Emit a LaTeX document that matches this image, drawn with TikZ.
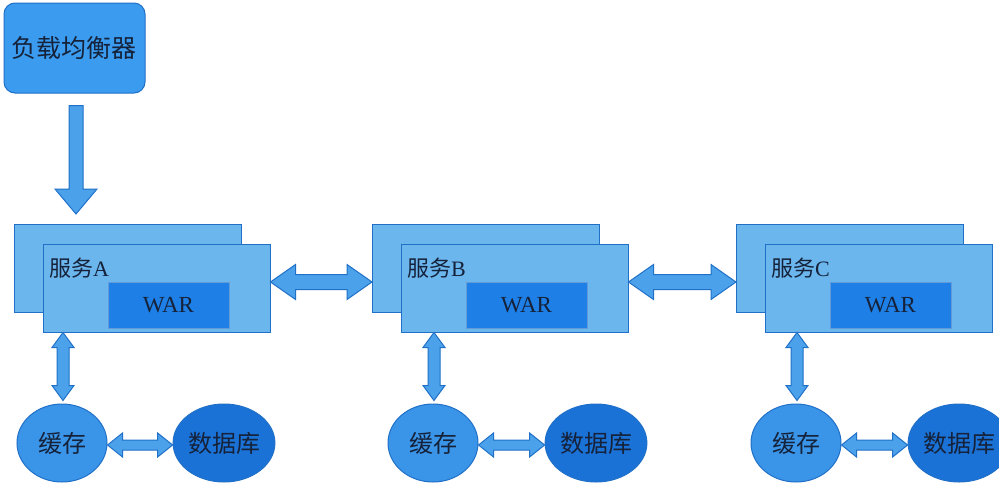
\documentclass[tikz,border=0pt]{standalone}
\usepackage{fontspec}
\setmainfont{Liberation Serif}
\newfontfamily\cjk{Noto Sans CJK SC}
\usetikzlibrary{calc,shapes.geometric}
\definecolor{lbfill}{HTML}{3B9BEF}
\definecolor{bord}{HTML}{2070C8}
\definecolor{svcfill}{HTML}{6CB6EE}
\definecolor{warfill}{HTML}{1E80E6}
\definecolor{cachefill}{HTML}{3A95E8}
\definecolor{dbfill}{HTML}{1B72D6}
\definecolor{arrfill}{HTML}{4BA2EA}
\definecolor{txt}{HTML}{15223A}
\tikzset{
  lbbox/.style={draw=bord, fill=lbfill, line width=1pt, rounded corners=11pt, minimum width=141pt, minimum height=90pt, inner sep=0pt, text=txt, font=\cjk\fontsize{25}{27}\selectfont},
  svcbox/.style={draw=bord, fill=svcfill, line width=1pt, minimum width=227pt, minimum height=88pt, inner sep=0pt},
  warbox/.style={draw=bord!70, fill=warfill, line width=0.6pt, minimum width=121pt, minimum height=46pt, inner sep=0pt, text=txt, font=\fontsize{23}{25}\selectfont},
  svclabel/.style={anchor=west, inner sep=0pt, text=txt, font=\fontsize{22}{24}\selectfont},
  cachenode/.style={ellipse, draw=bord, fill=cachefill, line width=1pt, minimum width=90pt, minimum height=78pt, inner sep=0pt, text=txt, font=\cjk\fontsize{24}{26}\selectfont},
  dbnode/.style={ellipse, draw=bord, fill=dbfill, line width=1pt, minimum width=88pt, minimum height=78pt, inner sep=0pt, text=txt, font=\cjk\fontsize{24}{26}\selectfont},
  arr/.style={draw=bord, fill=arrfill, line width=1pt, line join=miter},
}
% horizontal double arrow: #1 start, #2 end, #3 shaft half, #4 head half, #5 head length
\newcommand\hdarrow[5]{\draw[arr] let \p1=(#1), \p2=(#2) in
  (\x1,\y1) -- (\x1+#5,\y1+#4) -- (\x1+#5,\y1+#3) -- (\x2-#5,\y1+#3) -- (\x2-#5,\y1+#4) -- (\x2,\y1)
  -- (\x2-#5,\y1-#4) -- (\x2-#5,\y1-#3) -- (\x1+#5,\y1-#3) -- (\x1+#5,\y1-#4) -- cycle;}
% vertical double arrow (start above, end below)
\newcommand\vdarrow[5]{\draw[arr] let \p1=(#1), \p2=(#2) in
  (\x1,\y1) -- (\x1+#4,\y1-#5) -- (\x1+#3,\y1-#5) -- (\x1+#3,\y2+#5) -- (\x1+#4,\y2+#5) -- (\x1,\y2)
  -- (\x1-#4,\y2+#5) -- (\x1-#3,\y2+#5) -- (\x1-#3,\y1-#5) -- (\x1-#4,\y1-#5) -- cycle;}
% vertical single arrow pointing down
\newcommand\vsarrow[5]{\draw[arr] let \p1=(#1), \p2=(#2) in
  (\x1-#3,\y1) -- (\x1+#3,\y1) -- (\x1+#3,\y2+#5) -- (\x1+#4,\y2+#5) -- (\x1,\y2)
  -- (\x1-#4,\y2+#5) -- (\x1-#3,\y2+#5) -- cycle;}
\begin{document}
\begin{tikzpicture}[x=1pt,y=-1pt]
\useasboundingbox (0,0) rectangle (999,483);
\fill[white] (0,0) rectangle (999,483);
% load balancer
\node[lbbox] (lb) at (74.5,48) {负载均衡器};
% services
\foreach \s/\dx/\l in {A/0/A,B/358/B,C/722/C}{
  \node[svcbox] (back\s) at (128+\dx,268.5) {};
  \node[svcbox] (svc\s) at (156.5+\dx,288) {};
  \node[svclabel] (lab\s) at (49+\dx,268) {{\cjk 服务}\l};
  \node[warbox] (war\s) at (168.5+\dx,305) {WAR};
}
% caches and databases
\node[cachenode] (cacheA) at (62,443) {缓存};
\node[dbnode] (dbA) at (224,443) {数据库};
\node[cachenode] (cacheB) at (433,443) {缓存};
\node[dbnode] (dbB) at (596,443) {数据库};
\node[cachenode] (cacheC) at (796,443) {缓存};
\node[dbnode] (dbC) at (959,443) {数据库};
% load balancer arrow
\coordinate (lbs) at ($(lb.south)+(1.5,12)$);
\coordinate (lbe) at ($(lbs |- backA.north)+(0,-10)$);
\vsarrow{lbs}{lbe}{7pt}{21pt}{25pt}
% service arrows
\coordinate (abs) at (svcA.east |- 0,282);
\coordinate (abe) at (backB.west |- 0,282);
\hdarrow{abs}{abe}{7.5pt}{17.5pt}{25pt}
\coordinate (bcs) at (svcB.east |- 0,282);
\coordinate (bce) at (backC.west |- 0,282);
\hdarrow{bcs}{bce}{7.5pt}{17.5pt}{25pt}
% service to cache arrows
\foreach \s in {A,B,C}{
  \coordinate (vs\s) at ($(cache\s.north |- svc\s.south)+(1,0)$);
  \coordinate (ve\s) at ($(cache\s.north)+(1,-3)$);
  \vdarrow{vs\s}{ve\s}{6pt}{11pt}{15pt}
  \coordinate (cs\s) at ($(cache\s.east)+(0,2)$);
  \coordinate (ce\s) at ($(db\s.west)+(0,2)$);
  \hdarrow{cs\s}{ce\s}{5pt}{12pt}{15pt}
}
\end{tikzpicture}
\end{document}
